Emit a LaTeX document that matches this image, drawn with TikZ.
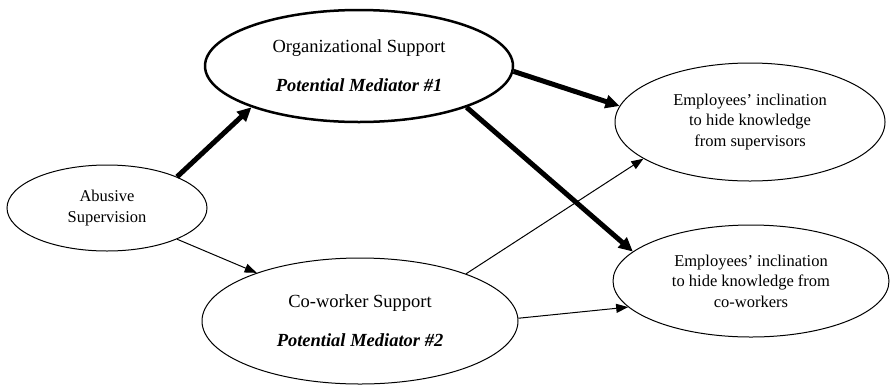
\documentclass[tikz,border=0pt]{standalone}
\usepackage{fontspec}
\setmainfont{Liberation Serif}
\usetikzlibrary{arrows.meta,shapes.geometric}

\begin{document}
\begin{tikzpicture}[x=1pt,y=-1pt,>={Triangle[length=12pt,width=9pt]},
  construct/.style={ellipse,draw,line width=1pt,inner sep=0pt,align=center,font=\fontsize{16.5}{20.5}\selectfont},
  mediator/.style={construct,font=\fontsize{18.5}{21}\selectfont},
  strong/.style={line width=5pt,-{Triangle[length=14pt,width=13pt]}},
  weak/.style={line width=1pt,->}]

\useasboundingbox (0,0) rectangle (890,389);

\node[construct,minimum width=200pt,minimum height=86pt]  (abuse)   at (107,208) {Abusive\\Supervision};
 \node[mediator,line width=2.5pt,minimum width=308pt,minimum height=112pt] (org) at (359,66)
	{Organizational Support\\[18pt]\textbf{\textit{Potential Mediator \#1}}};
\node[mediator,minimum width=316pt,minimum height=126pt] (cowork)  at (360,321)
	{Co-worker Support\\[18pt]\textbf{\textit{Potential Mediator \#2}}};
	\node[construct,minimum width=270pt,minimum height=118pt] (hidesup) at (750,122)
	{Employees' inclination\\to hide knowledge\\from supervisors};
\node[construct,minimum width=276pt,minimum height=112pt] (hidecow) at (751,281)
	{Employees' inclination\\to hide knowledge from\\co-workers};

	\path (abuse.24)  edge[strong]  (org.201)
	      (abuse.-24) edge[weak]    (cowork.155)
        (org.-2)    edge[strong]  (hidesup.173)
	      (org.-21)   edge[strong]  (hidecow.166)
	      (cowork.24) edge[weak]    (hidesup.199)
	      (cowork.1)  edge[weak]    (hidecow.192);

\end{tikzpicture}
\end{document}
